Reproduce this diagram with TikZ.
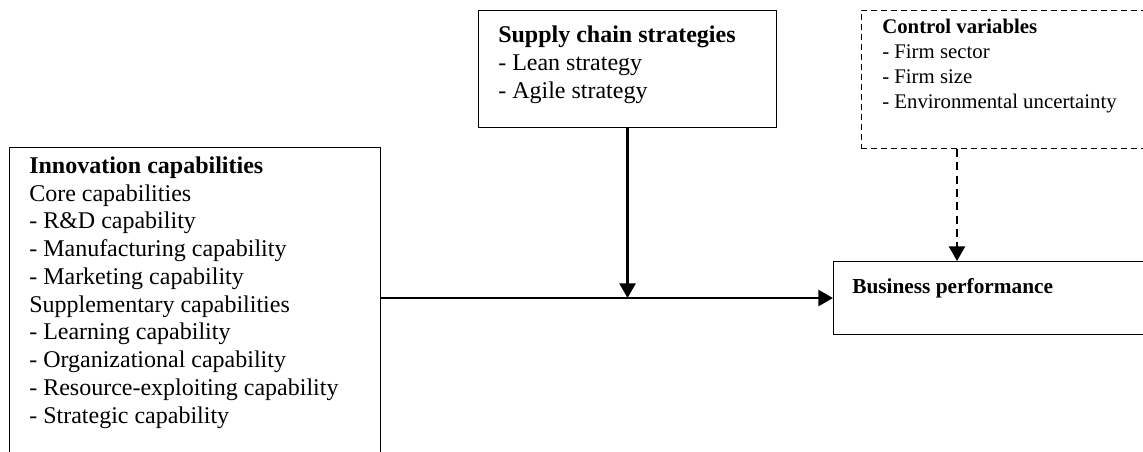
\documentclass[tikz,border=0pt]{standalone}
\usepackage{fontspec}
\setmainfont{Liberation Serif}
\usetikzlibrary{arrows.meta}

\begin{document}
\begin{tikzpicture}[x=0.75pt,y=0.75pt,yscale=-1,xscale=1,
  frame/.style={draw, line width=0.8pt, inner sep=0pt, anchor=north west},
  dashframe/.style={frame, dash pattern=on 4.5pt off 3pt, line width=0.7pt},
  label/.style={anchor=north west, inner sep=0pt, align=left},
  big/.style={font=\fontsize{18}{20.8}\selectfont},
  small/.style={font=\fontsize{15.6}{18.8}\selectfont},
  arr/.style={line width=2pt, -{Triangle[width=12pt,length=11pt]}},
  dasharr/.style={arr, dash pattern=on 6pt off 4pt}]
\useasboundingbox (0,0) rectangle (1143,452);

%Shape: Rectangle [innovation]
\node [frame, minimum width=278.25pt, minimum height=242pt] (innov) at (9,147) {};
%Shape: Rectangle [supply chain]
\node [frame, minimum width=223.5pt, minimum height=87.75pt] (supply) at (478,10) {};
%Shape: Rectangle [control, dashed]
\node [dashframe, minimum width=224.25pt, minimum height=103.5pt] (control) at (861,10) {};
%Shape: Rectangle [performance]
\node [frame, minimum width=245.25pt, minimum height=54.75pt] (perf) at (833,261) {};

% Text Node
\node [label, big] (innovtext) at (29,156.5) {\textbf{Innovation capabilities}\\
Core capabilities\\
- R\&D capability\\
- Manufacturing capability\\
- Marketing capability\\
Supplementary capabilities\\
- Learning capability\\
- Organizational capability\\
- Resource-exploiting capability\\
- Strategic capability};
% Text Node
\node [label, big] (supplytext) at (498,26) {\textbf{Supply chain strategies}\\
- Lean strategy\\
- Agile strategy};
% Text Node
\node [label, small] (controltext) at (882,19) {\textbf{Control variables}\\
- Firm sector\\
- Firm size\\
- Environmental uncertainty};
% Text Node
\node [label, font=\fontsize{16}{19}\selectfont] (perftext) at (852,278.5) {\textbf{Business performance}};

%Straight Lines [arrows]
\coordinate (ctrlout) at ([xshift=72pt]control.south west);
\draw [arr] (innov.east |- perf.west) -- (perf.west);
\draw [arr] (supply.south) -- (supply.south |- perf.west);
\draw [dasharr] (ctrlout) -- (ctrlout |- perf.north);

\end{tikzpicture}
\end{document}
